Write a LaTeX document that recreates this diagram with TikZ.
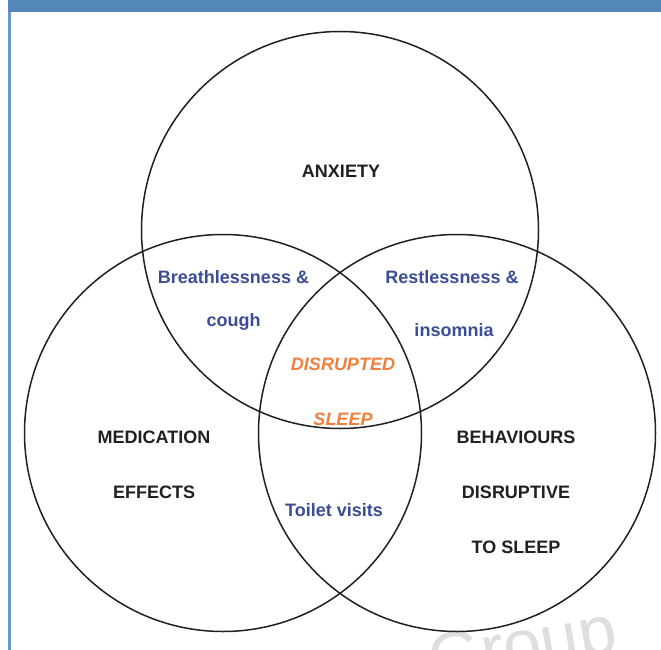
\documentclass[tikz,border=0pt]{standalone}
\usepackage{fontspec}
\setmainfont{Liberation Sans}
\definecolor{barblue}{RGB}{84,136,184}
\definecolor{lineblue}{RGB}{104,152,200}
\definecolor{ink}{RGB}{35,31,32}
\definecolor{txtblue}{RGB}{59,77,151}
\definecolor{txtorange}{RGB}{242,128,60}
\definecolor{wm}{RGB}{222,222,222}
\tikzset{
  venn/.style={draw=ink, line width=1.5pt},
  lbl/.style={anchor=base, inner sep=0pt, font=\fontsize{18}{20}\selectfont\bfseries},
  blk/.style={lbl, text=ink},
  blu/.style={lbl, text=txtblue},
  org/.style={lbl, text=txtorange, font=\fontsize{18}{20}\selectfont\bfseries\itshape},
}
\begin{document}
\begin{tikzpicture}[x=1pt,y=-1pt]
\useasboundingbox (0,0) rectangle (661,650);
\clip (0,0) rectangle (661,650);
\fill[white] (0,0) rectangle (661,650);
% watermark
\node[anchor=base west, inner sep=0pt, text=wm, rotate=10, font=\fontsize{68}{70}\selectfont] (wmark) at (433,684) {Group};
% frame
\fill[barblue] (7.5,0) rectangle (661,12.5);
\draw[lineblue, line width=2.5pt] (9.5,12.5) -- (9.5,650);
% circles
\draw[venn] (340,230) circle[radius=198.5];
\draw[venn] (223,433) circle[radius=198.5];
\draw[venn] (457,433) circle[radius=198.5];
% labels
\node[blk] (anx) at (341,177) {ANXIETY};
\node[blu] (br1) at (233.5,283) {Breathlessness \&};
\node[blu] (br2) at (233.5,326) {cough};
\node[blu] (re1) at (452,283) {Restlessness \&};
\node[blu] (re2) at (454,336) {insomnia};
\node[org] (ds1) at (343,370) {DISRUPTED};
\node[org] (ds2) at (343,425) {SLEEP};
\node[blk] (me1) at (154,443) {MEDICATION};
\node[blk] (me2) at (154,498) {EFFECTS};
\node[blk] (be1) at (516,443) {BEHAVIOURS};
\node[blk] (be2) at (516,498) {DISRUPTIVE};
\node[blk] (be3) at (516,553) {TO SLEEP};
\node[blu] (tv) at (334,516) {Toilet visits};
\end{tikzpicture}
\end{document}
